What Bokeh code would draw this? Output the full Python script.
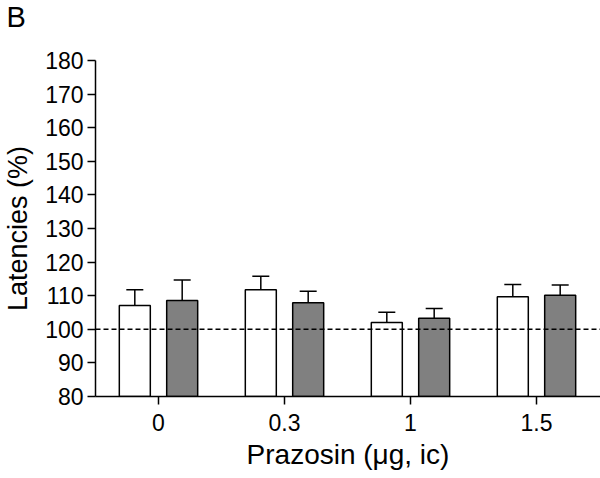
from bokeh.plotting import figure
from bokeh.models import Range1d, FixedTicker, Whisker, ColumnDataSource, Span, TeeHead, Title
from bokeh.transform import dodge
from bokeh.embed import file_html
from bokeh.resources import INLINE

# Data
doses = ["0", "0.3", "1", "1.5"]
white_mean = [107.1, 111.8, 102.0, 109.7]
white_sem = [4.7, 4.0, 3.1, 3.6]
grey_mean = [108.6, 107.9, 103.3, 110.1]
grey_sem = [6.1, 3.4, 2.9, 3.1]
y_ticks = [80, 90, 100, 110, 120, 130, 140, 150, 160, 170, 180]
baseline = 100

FONT = "Liberation Sans"

pos = list(range(len(doses)))
src = ColumnDataSource(dict(
    x=pos,
    wm=white_mean,
    wu=[m + s for m, s in zip(white_mean, white_sem)],
    gm=grey_mean,
    gu=[m + s for m, s in zip(grey_mean, grey_sem)],
))

p = figure(width=600, height=478,
           x_range=Range1d(-0.5, 3.508), y_range=Range1d(80, 180),
           output_backend="svg", toolbar_location=None,
           min_border_left=95, min_border_right=0,
           min_border_top=60, min_border_bottom=82)
p.outline_line_color = None
p.xgrid.visible = False
p.ygrid.visible = False
p.background_fill_color = "white"
p.border_fill_color = "white"

# spacer between panel letter and the plot frame
p.add_layout(Title(text=" ", text_font_size="1px", standoff=23), "above")
p.add_layout(Title(text="B", align="left", vertical_align="top", offset=-89,
                   standoff=0, text_font=FONT, text_font_size="29px",
                   text_font_style="normal", text_color="black"), "above")

off = 0.188
bw = 0.246

p.vbar(x=dodge("x", -off), top="wm", bottom=80, width=bw, source=src,
       fill_color="white", line_color="black", line_width=1.5)
p.vbar(x=dodge("x", off), top="gm", bottom=80, width=bw, source=src,
       fill_color="#808080", line_color="black", line_width=1.5)

for xcol, lo, hi in ((dodge("x", -off), "wm", "wu"), (dodge("x", off), "gm", "gu")):
    w = Whisker(base=xcol, lower=lo, upper=hi, source=src, dimension="height",
                line_color="black", line_width=1.5,
                upper_head=TeeHead(size=17, line_color="black", line_width=1.5),
                lower_head=None)
    p.add_layout(w)

p.add_layout(Span(location=baseline, dimension="width", line_color="black",
                  line_width=1.5, line_dash="5 3"))

# axes
p.xaxis.ticker = FixedTicker(ticks=pos)
p.xaxis.major_label_overrides = {i: d for i, d in zip(pos, doses)}
p.yaxis.ticker = FixedTicker(ticks=y_ticks)
for ax in (p.xaxis[0], p.yaxis[0]):
    ax.axis_line_color = "black"
    ax.axis_line_width = 1.5
    ax.major_tick_line_color = "black"
    ax.major_tick_line_width = 1.5
    ax.major_tick_out = 8
    ax.major_tick_in = 0
    ax.minor_tick_line_color = None
    ax.major_label_text_font = FONT
    ax.major_label_text_font_size = "23px"
    ax.major_label_text_color = "black"
    ax.axis_label_text_font = FONT
    ax.axis_label_text_font_style = "normal"
    ax.axis_label_text_color = "black"

p.xaxis.axis_label = "Prazosin (\u03bcg, ic)"
p.xaxis.axis_label_text_font_size = "28px"
p.xaxis.major_label_standoff = 9
p.xaxis.axis_label_standoff = 5
p.yaxis.axis_label = "Latencies (%)"
p.yaxis.axis_label_text_font_size = "27px"
p.yaxis.major_label_standoff = 4
p.yaxis.axis_label_standoff = 9

open("out.html", "w").write(file_html(p, INLINE))
